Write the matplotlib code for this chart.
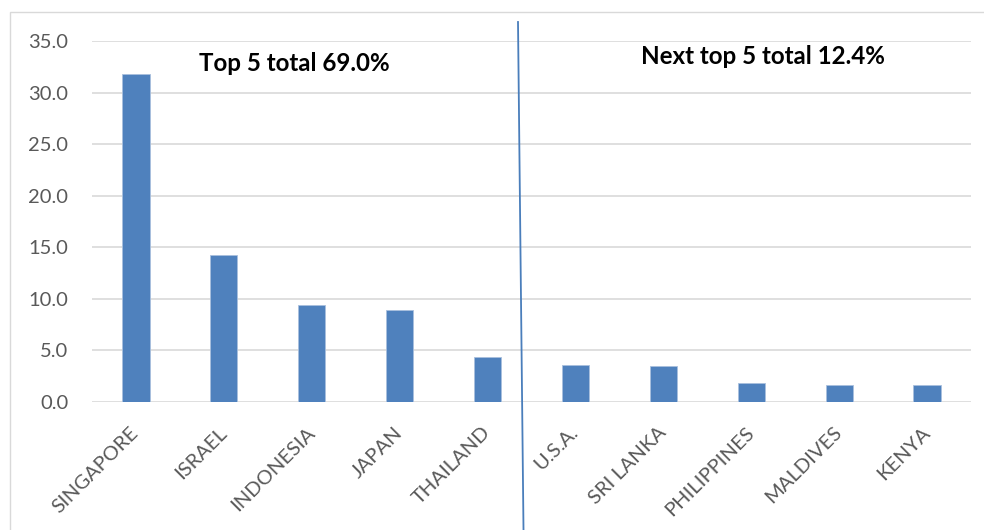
import matplotlib
matplotlib.use("Agg")
import matplotlib.pyplot as plt
from matplotlib.lines import Line2D
from matplotlib.patches import Rectangle

countries = ["SINGAPORE", "ISRAEL", "INDONESIA", "JAPAN", "THAILAND",
             "U.S.A.", "SRI LANKA", "PHILIPPINES", "MALDIVES", "KENYA"]
shares = [31.8, 14.3, 9.4, 8.9, 4.4, 3.6, 3.5, 1.85, 1.65, 1.6]
top5_label = "Top 5 total 69.0%"
next5_label = "Next top 5 total 12.4%"

plt.rcParams["font.family"] = ["Lato", "DejaVu Sans"]

W, H = 984, 530
fig = plt.figure(figsize=(W / 100, H / 100), dpi=100)
ax = fig.add_axes([92 / W, 1 - 402 / H, (971 - 92) / W, (402 - 41) / H])

x = range(len(countries))
ax.bar(x, shares, width=0.31, color="#4f81bd", edgecolor="#a9c0de", linewidth=0.6, zorder=3)

ax.set_xlim(-0.5, len(countries) - 0.5)
ax.set_ylim(0, 35)
ax.set_yticks(range(0, 36, 5))
ax.set_yticklabels([f"{v:.1f}" for v in range(0, 36, 5)])
ax.set_xticks(list(x))
ax.set_xticklabels(countries, rotation=45, ha="right", va="center", rotation_mode="anchor")

ax.grid(axis="y", color="#d9d9d9", linewidth=1.2, zorder=0)
for s in ax.spines.values():
    s.set_visible(False)
ax.tick_params(axis="both", length=0, colors="#595959")
ax.tick_params(axis="y", labelsize=14.5, pad=17)
ax.tick_params(axis="x", labelsize=14.5, pad=20)

ax.text(1.8, 32.8, top5_label, ha="center", va="center",
        fontsize=17.4, fontweight="bold", color="black")
ax.text(7.13, 33.5, next5_label, ha="center", va="center",
        fontsize=17.4, fontweight="bold", color="black")

# divider between groups (drawn in figure pixels)
fig.add_artist(Line2D([518 / W, 523.5 / W], [1 - 22 / H, 0], color="#4a7ebb", linewidth=1.3))

# outer chart frame
fig.add_artist(Rectangle((10 / W, -0.1), 1.2, 1 - 12 / H + 0.1, transform=fig.transFigure,
                         fill=False, edgecolor="#d9d9d9", linewidth=1))

fig.savefig("out.png", dpi=100)
